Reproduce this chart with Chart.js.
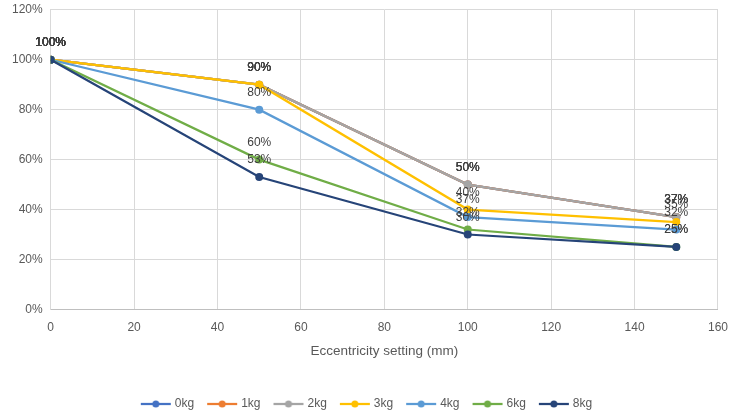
<!DOCTYPE html>
<html><head><meta charset="utf-8">
<script src="https://cdn.jsdelivr.net/npm/chart.js@4/dist/chart.umd.min.js"></script>
<style>html,body{margin:0;padding:0;background:#fff}#wrap{width:731px;height:414px}</style>
</head><body><div id="wrap"><canvas id="c" width="731" height="414"></canvas></div>
<script>
const xValues = [0, 50, 100, 150];
const seriesNames = ['0kg','1kg','2kg','3kg','4kg','6kg','8kg'];
const s0kg = [1.00, 0.90, 0.50, 0.37];
const s1kg = [1.00, 0.90, 0.50, 0.37];
const s2kg = [1.00, 0.90, 0.50, 0.37];
const s3kg = [1.00, 0.90, 0.40, 0.35];
const s4kg = [1.00, 0.80, 0.37, 0.32];
const s6kg = [1.00, 0.60, 0.32, 0.25];
const s8kg = [1.00, 0.53, 0.30, 0.25];
const seriesValues = [s0kg, s1kg, s2kg, s3kg, s4kg, s6kg, s8kg];
const colors = ['#4472C4','#ED7D31','#A5A5A5','#FFC000','#5B9BD5','#70AD47','#264478'];
const yTicks = [0, 0.2, 0.4, 0.6, 0.8, 1.0, 1.2];
const xTitle = 'Eccentricity setting (mm)';

const FONT = "'Liberation Sans', Arial, sans-serif";

function legendIcon(color){
  const cv = document.createElement('canvas');
  cv.width = 32; cv.height = 10;
  const g = cv.getContext('2d');
  g.strokeStyle = color; g.lineWidth = 2.25;
  g.beginPath(); g.moveTo(1,5); g.lineTo(31,5); g.stroke();
  g.fillStyle = color; g.beginPath(); g.arc(16,5,3.5,0,Math.PI*2); g.fill();
  return cv;
}

const datasets = seriesNames.map((n,i)=>({
  label: n,
  data: xValues.map((x,j)=>({x:x, y:seriesValues[i][j]})),
  borderColor: colors[i],
  backgroundColor: colors[i],
  borderWidth: 2.25,
  pointRadius: 4,
  pointHoverRadius: 4,
  pointBorderWidth: 0,
  order: seriesNames.length - i,
  pointStyle: 'circle'
}));

const labelPlugin = {
  id: 'valLabels',
  afterDatasetsDraw(chart){
    const ctx = chart.ctx;
    ctx.save();
    ctx.font = "12px " + FONT;
    ctx.fillStyle = '#404040';
    ctx.textAlign = 'center';
    ctx.textBaseline = 'middle';
    chart.data.datasets.forEach((ds, i)=>{
      const meta = chart.getDatasetMeta(i);
      meta.data.forEach((pt, j)=>{
        const v = ds.data[j].y;
        ctx.fillText(Math.round(v*100)+'%', pt.x, pt.y - 17);
      });
    });
    ctx.restore();
  }
};

new Chart(document.getElementById('c'), {
  type: 'line',
  data: { datasets },
  plugins: [labelPlugin],
  options: {
    responsive: false,
    animation: false,
    layout: { padding: { left: 4, right: 0, top: 1, bottom: -6 } },
    scales: {
      x: {
        type: 'linear', min: 0, max: 160,
        ticks: { stepSize: 20, color: '#595959', font: { size: 12, family: FONT }, padding: 3 },
        grid: { color: '#D9D9D9', drawTicks: true, tickLength: 8, tickColor: 'rgba(0,0,0,0)' },
        border: { color: '#BFBFBF' },
        title: { display: true, text: xTitle, color: '#595959', font: { size: 13.5, family: FONT }, padding: { top: 5, bottom: 24 } }
      },
      y: {
        min: 0, max: 1.2,
        afterBuildTicks(axis){ axis.ticks = yTicks.map(v=>({value:v})); },
        ticks: { color: '#595959', font: { size: 12, family: FONT, lineHeight: 0.3 }, padding: 8,
          callback: v => Math.round(v*100) + '%' },
        grid: { color: '#D9D9D9', drawTicks: false },
        border: { color: '#D9D9D9' }
      }
    },
    plugins: {
      tooltip: { enabled: false },
      legend: {
        position: 'bottom',
        labels: {
          color: '#595959',
          font: { size: 12, family: FONT },
          usePointStyle: true,
          pointStyleWidth: 26,
          boxHeight: 10,
          padding: 15,
          sort: (a,b) => a.datasetIndex - b.datasetIndex,
          generateLabels(chart){
            return chart.data.datasets.map((ds,i)=>({
              text: ds.label, datasetIndex: i, pointStyle: legendIcon(colors[i]),
              fillStyle: colors[i], strokeStyle: colors[i], lineWidth: 0, hidden: false,
              fontColor: '#595959'
            }));
          }
        }
      }
    }
  }
});
</script></body></html>
